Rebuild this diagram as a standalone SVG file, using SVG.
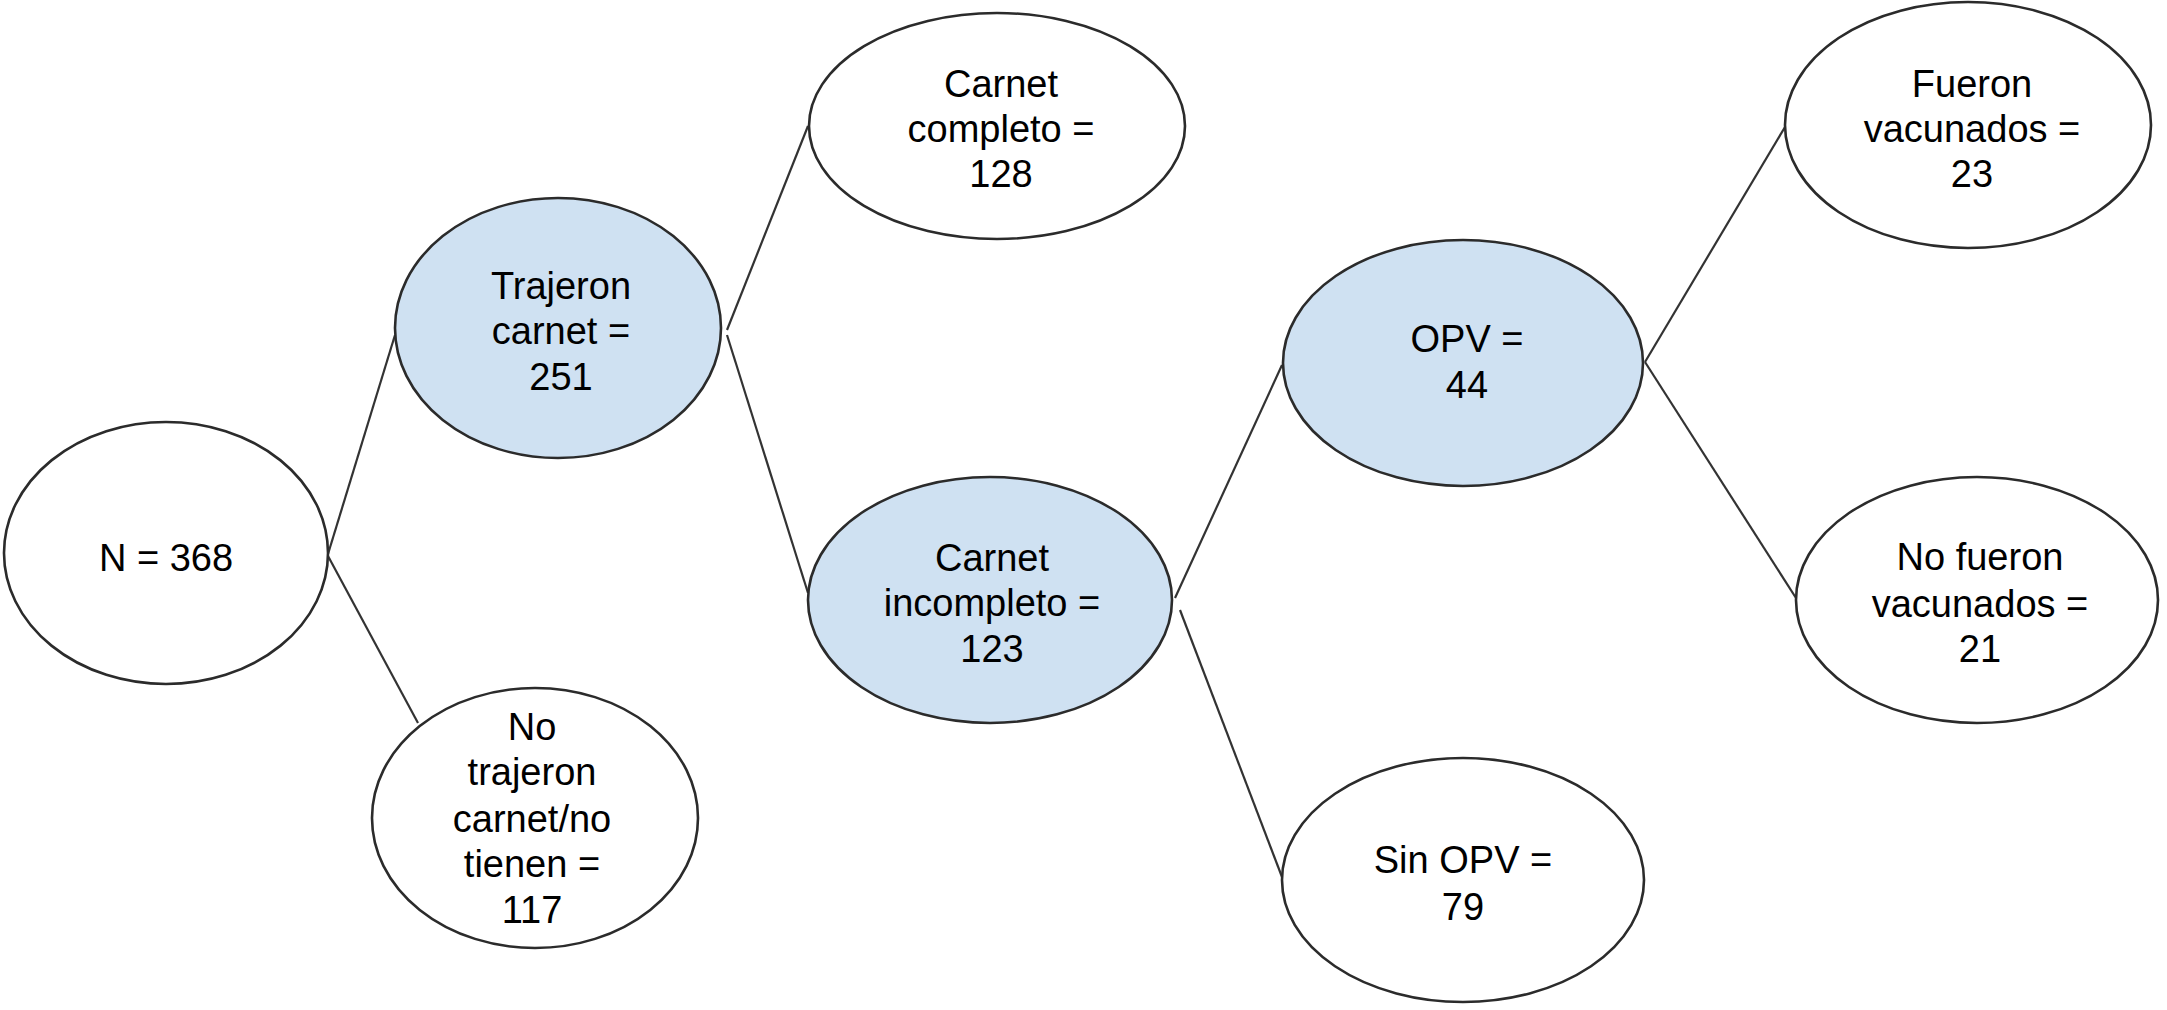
<svg xmlns="http://www.w3.org/2000/svg" width="2167" height="1010" viewBox="0 0 2167 1010">
<style>
.n ellipse{stroke:#2b2b2b;stroke-width:2.6}
.w{fill:#ffffff}
.b{fill:#cfe1f2}
text{font-family:"Liberation Sans",Arial,Helvetica,sans-serif;font-size:38px;fill:#000;text-anchor:middle}
.c line{stroke:#333;stroke-width:2.2}
</style>
<rect width="2167" height="1010" fill="#fff"/>
<g class="c" id="connectors">
<line x1="328" y1="554" x2="395" y2="335"/>
<line x1="328" y1="556" x2="418" y2="723"/>
<line x1="727" y1="330" x2="808" y2="126"/>
<line x1="727" y1="335" x2="808" y2="593"/>
<line x1="1175" y1="598" x2="1282" y2="365"/>
<line x1="1180" y1="610" x2="1282" y2="877"/>
<line x1="1645" y1="362" x2="1785" y2="127"/>
<line x1="1645" y1="362" x2="1796" y2="598"/>
</g>
<g class="n" id="n368">
<ellipse class="w" cx="166" cy="553" rx="162" ry="131"/>
<text x="166" y="571">N = 368</text>
</g>
<g class="n" id="trajeron">
<ellipse class="b" cx="558" cy="328" rx="163" ry="130"/>
<text x="561" y="299">Trajeron</text>
<text x="561" y="344">carnet =</text>
<text x="561" y="390">251</text>
</g>
<g class="n" id="notrajeron">
<ellipse class="w" cx="535" cy="818" rx="163" ry="130"/>
<text x="532" y="740">No</text>
<text x="532" y="785">trajeron</text>
<text x="532" y="832">carnet/no</text>
<text x="532" y="877">tienen =</text>
<text x="532" y="923">117</text>
</g>
<g class="n" id="completo">
<ellipse class="w" cx="997" cy="126" rx="188" ry="113"/>
<text x="1001" y="97">Carnet</text>
<text x="1001" y="142">completo =</text>
<text x="1001" y="187">128</text>
</g>
<g class="n" id="incompleto">
<ellipse class="b" cx="990" cy="600" rx="182" ry="123"/>
<text x="992" y="571">Carnet</text>
<text x="992" y="616">incompleto =</text>
<text x="992" y="662">123</text>
</g>
<g class="n" id="opv">
<ellipse class="b" cx="1463" cy="363" rx="180" ry="123"/>
<text x="1467" y="352">OPV =</text>
<text x="1467" y="398">44</text>
</g>
<g class="n" id="sinopv">
<ellipse class="w" cx="1463" cy="880" rx="181" ry="122"/>
<text x="1463" y="873">Sin OPV =</text>
<text x="1463" y="920">79</text>
</g>
<g class="n" id="fueron">
<ellipse class="w" cx="1968" cy="125" rx="183" ry="123"/>
<text x="1972" y="97">Fueron</text>
<text x="1972" y="142">vacunados =</text>
<text x="1972" y="187">23</text>
</g>
<g class="n" id="nofueron">
<ellipse class="w" cx="1977" cy="600" rx="181" ry="123"/>
<text x="1980" y="570">No fueron</text>
<text x="1980" y="617">vacunados =</text>
<text x="1980" y="662">21</text>
</g>
</svg>
